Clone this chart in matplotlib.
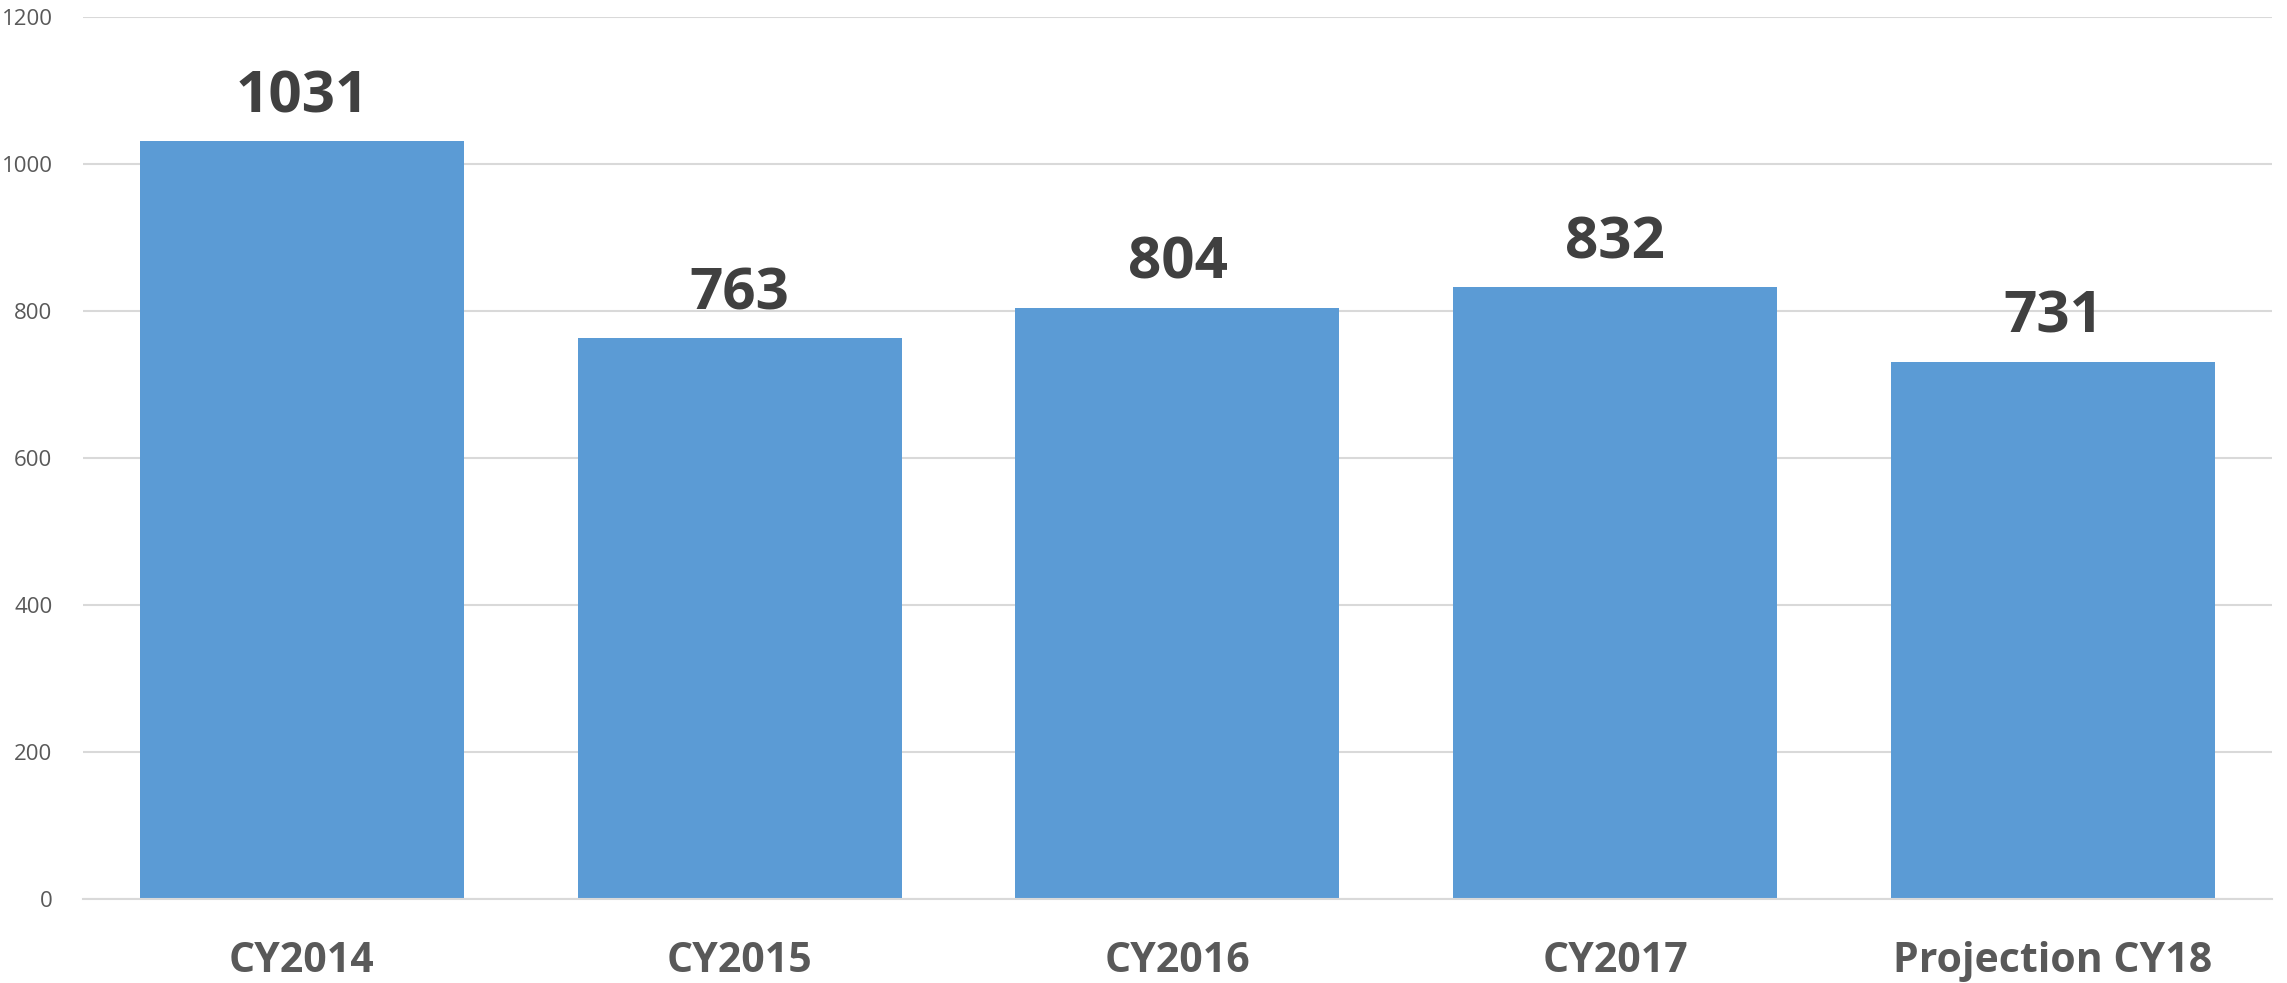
import numpy as np
import matplotlib.pyplot as plt

# Datos
categorias = ["CY2014", "CY2015", "CY2016", "CY2017", "Projection CY18"]
valores = [1031, 763, 804, 832, 731]
ticks_y = [0, 200, 400, 600, 800, 1000, 1200]

plt.rcParams['font.family'] = ['Open Sans', 'DejaVu Sans']

fig = plt.figure(figsize=(22.87, 9.83), dpi=100)
ax = fig.add_axes([0.0363, 0.0855, 0.9571, 0.8972])

x = np.arange(len(categorias))
ax.bar(x, valores, width=0.74, color="#5B9BD5", zorder=2)

# Etiquetas de valor sobre cada barra
for xi, v in zip(x, valores):
    ax.annotate(str(v), (xi, v), xytext=(0, 21), textcoords="offset points",
                ha="center", va="baseline", fontsize=42, fontweight="bold", color="#404040")

ax.set_xlim(-0.5, len(categorias) - 0.5)
ax.set_ylim(0, 1200)
ax.set_yticks(ticks_y)
ax.set_xticks(x)
ax.set_xticklabels(categorias, fontsize=29.5, fontweight="bold", color="#595959")
ax.tick_params(axis="y", labelsize=16, labelcolor="#595959", length=0, pad=22)
ax.tick_params(axis="x", length=0, pad=30)

ax.yaxis.grid(True, color="#D9D9D9", linewidth=1.5, zorder=0)
for lado in ["top", "right", "left"]:
    ax.spines[lado].set_visible(False)
ax.spines["bottom"].set_color("#D9D9D9")
ax.spines["bottom"].set_linewidth(1.5)

fig.savefig("out.png", dpi=100)
